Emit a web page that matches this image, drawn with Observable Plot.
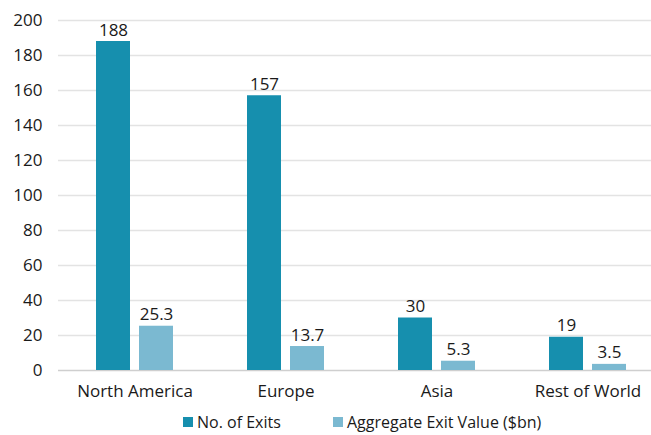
<!DOCTYPE html>
<html>
<head>
<meta charset="utf-8">
<script src="https://cdn.jsdelivr.net/npm/d3@7"></script>
<script src="https://cdn.jsdelivr.net/npm/@observablehq/plot@0.6"></script>
<style>
  html, body { margin: 0; padding: 0; background: #fff; }
  body { width: 651px; height: 435px; overflow: hidden; font-family: "Open Sans", sans-serif; }
  #legend { position: relative; height: 25px; font-size: 16px; color: #1a1a1a; }
  .item { position: absolute; top: 2px; display: flex; align-items: center; line-height: 20px; white-space: nowrap; }
  .sw { width: 10px; height: 10px; margin-right: 4px; }
</style>
</head>
<body>
<div id="chart"></div>
<div id="legend"></div>
<script>
const regions = ["North America", "Europe", "Asia", "Rest of World"];
const exits = [188, 157, 30, 19];
const exitValue = [25.3, 13.7, 5.3, 3.5];
const exitValueLabels = ["25.3", "13.7", "5.3", "3.5"];
const seriesNames = ["No. of Exits", "Aggregate Exit Value ($bn)"];
const colors = ["#168fae", "#7bb9d1"];
const yTicks = [0, 20, 40, 60, 80, 100, 120, 140, 160, 180, 200];

const dataA = regions.map((r, i) => ({region: r, value: exits[i], label: String(exits[i])}));
const dataB = regions.map((r, i) => ({region: r, value: exitValue[i], label: exitValueLabels[i]}));

const inset = (151 - 34) / 2;
const off = 21.5;

const chart = Plot.plot({
  width: 651,
  height: 410,
  marginTop: 20,
  marginBottom: 40,
  marginLeft: 58,
  marginRight: 0,
  style: {fontFamily: "Open Sans, sans-serif", fontSize: "17px", color: "#1a1a1a", background: "#fff"},
  x: {domain: regions, range: [59, 663], padding: 0, label: null},
  y: {domain: [0, 200], label: null},
  marks: [
    Plot.ruleY(yTicks.filter(d => d > 0), {stroke: "#e3e3e3", strokeWidth: 1.3}),
    Plot.ruleY([0], {stroke: "#cfcfcf", strokeWidth: 1.5}),
    Plot.axisY({ticks: yTicks, tickSize: 0, tickPadding: 16, fontSize: 17, fill: "#1a1a1a"}),
    Plot.axisX({tickSize: 0, tickPadding: 14, fontSize: 17, fill: "#1a1a1a"}),
    Plot.barY(dataA, {x: "region", y: "value", fill: colors[0], insetLeft: inset, insetRight: inset, dx: -off}),
    Plot.barY(dataB, {x: "region", y: "value", fill: colors[1], insetLeft: inset, insetRight: inset, dx: off}),
    Plot.text(dataA, {x: "region", y: "value", text: "label", dx: -off, dy: -6, lineAnchor: "bottom", fontSize: 17, fill: "#1a1a1a"}),
    Plot.text(dataB, {x: "region", y: "value", text: "label", dx: off, dy: -6, lineAnchor: "bottom", fontSize: 17, fill: "#1a1a1a"})
  ]
});
document.getElementById("chart").appendChild(chart);

const legend = document.getElementById("legend");
const lefts = [183, 333];
seriesNames.forEach((name, i) => {
  const it = document.createElement("div");
  it.className = "item";
  it.style.left = lefts[i] + "px";
  const sw = document.createElement("span");
  sw.className = "sw";
  sw.style.background = colors[i];
  const tx = document.createElement("span");
  tx.textContent = name;
  it.appendChild(sw);
  it.appendChild(tx);
  legend.appendChild(it);
});
</script>
</body>
</html>
